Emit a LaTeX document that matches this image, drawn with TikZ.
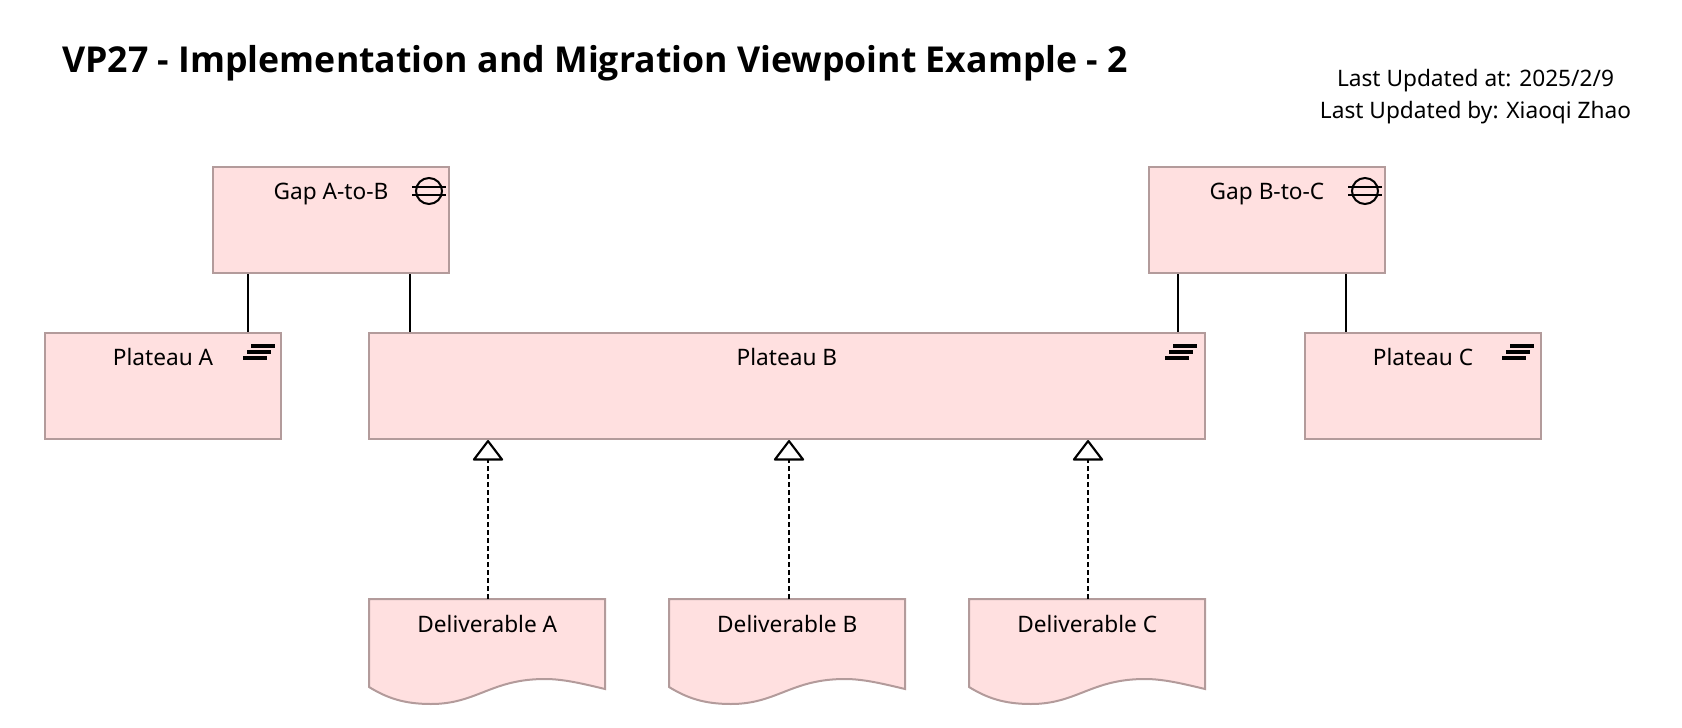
\documentclass[tikz,border=0pt]{standalone}
\usepackage{fontspec}
\setmainfont{Noto Sans}
\newfontfamily\titlefont{Open Sans}
\usetikzlibrary{arrows.meta}
\definecolor{archfill}{HTML}{FFE0E0}
\definecolor{archline}{HTML}{B39B9B}
\tikzset{
  archbox/.style={draw=archline,fill=archfill,line width=1.5pt,rectangle,inner sep=0pt,minimum height=79.5pt,anchor=north west},
  boxw/.style={minimum width=177pt},
  lab/.style={anchor=base,yshift=-25.2pt,inner sep=0pt,font=\fontsize{17pt}{20pt}\selectfont},
  conn/.style={draw=black,line width=1.5pt},
  real/.style={draw=black,line width=1.5pt,dash pattern=on 3.4pt off 2.6pt,
    -{Triangle[open,fill=white,length=16pt,width=24pt,line width=1.6pt,round]}},
  iconline/.style={draw=black,line width=1.5pt},
  plateaubar/.style={draw=black,line width=3pt},
  delshape/.style={draw=archline,fill=archfill,line width=1.5pt},
  delanchor/.style={rectangle,inner sep=0pt,minimum width=177pt,minimum height=78.75pt,anchor=north west},
}
\newcommand{\gapicon}[2]{%
  \draw[iconline] (#1,#2) circle[radius=13];
  \draw[iconline] (#1-17,#2-4) -- (#1+17,#2-4) (#1-17,#2+4) -- (#1+17,#2+4);}
\newcommand{\plateauicon}[2]{%
  \draw[plateaubar] (#1-8,#2-6) -- (#1+16,#2-6) (#1-12,#2) -- (#1+12,#2) (#1-16,#2+6) -- (#1+8,#2+6);}
\newcommand{\deliverable}[3]{%
  \path[delshape] (#2,599) -- (#2+236,599) -- (#2+236,689)
    .. controls (#2+215,684) and (#2+195,679) .. (#2+176,679)
    .. controls (#2+122,679) and (#2+108,704) .. (#2+62,704)
    .. controls (#2+35,704) and (#2+18,698) .. (#2,687) -- cycle;
  \node[delanchor,label={[lab]north:#3}] (#1) at (#2,599) {};}
\begin{document}
\begin{tikzpicture}[x=0.75pt,y=-0.75pt]
\useasboundingbox (0,0) rectangle (1682,728);
\node[anchor=base west,inner sep=0pt,font=\fontsize{26.75pt}{30pt}\titlefont\bfseries] (title) at (62,72) {VP27 - Implementation and Migration Viewpoint Example - 2};
\node[anchor=base,inner sep=0pt,font=\fontsize{17pt}{20pt}\selectfont] (upd1) at (1475.5,86) {Last Updated at: 2025/2/9};
\node[anchor=base,inner sep=0pt,font=\fontsize{17pt}{20pt}\selectfont] (upd2) at (1475.5,118) {Last Updated by: Xiaoqi Zhao};

\node[archbox,boxw,label={[lab]north:Gap A-to-B}] (gapA) at (212,166) {};
\node[archbox,boxw,label={[lab]north:Gap B-to-C}] (gapB) at (1148,166) {};
\node[archbox,boxw,label={[lab]north:Plateau A}] (platA) at (44,332) {};
\node[archbox,minimum width=626.75pt,label={[lab]north:Plateau B}] (platB) at (368,332) {};
\node[archbox,boxw,label={[lab]north:Plateau C}] (platC) at (1304,332) {};

\gapicon{429}{191}
\gapicon{1365}{191}
\plateauicon{259}{352}
\plateauicon{1181}{352}
\plateauicon{1518}{352}

\deliverable{delA}{369}{Deliverable A}
\deliverable{delB}{669}{Deliverable B}
\deliverable{delC}{969}{Deliverable C}

\draw[conn] (gapA.south west) ++(36,0) coordinate (c1) -- (c1 |- platA.north);
\draw[conn] (gapA.south west) ++(198,0) coordinate (c2) -- (c2 |- platB.north);
\draw[conn] (gapB.south west) ++(30,0) coordinate (c3) -- (c3 |- platB.north);
\draw[conn] (gapB.south west) ++(198,0) coordinate (c4) -- (c4 |- platC.north);

\draw[real] (delA.north west) ++(119,0) coordinate (d1) -- (d1 |- platB.south);
\draw[real] (delB.north west) ++(120,0) coordinate (d2) -- (d2 |- platB.south);
\draw[real] (delC.north west) ++(119,0) coordinate (d3) -- (d3 |- platB.south);
\end{tikzpicture}
\end{document}
